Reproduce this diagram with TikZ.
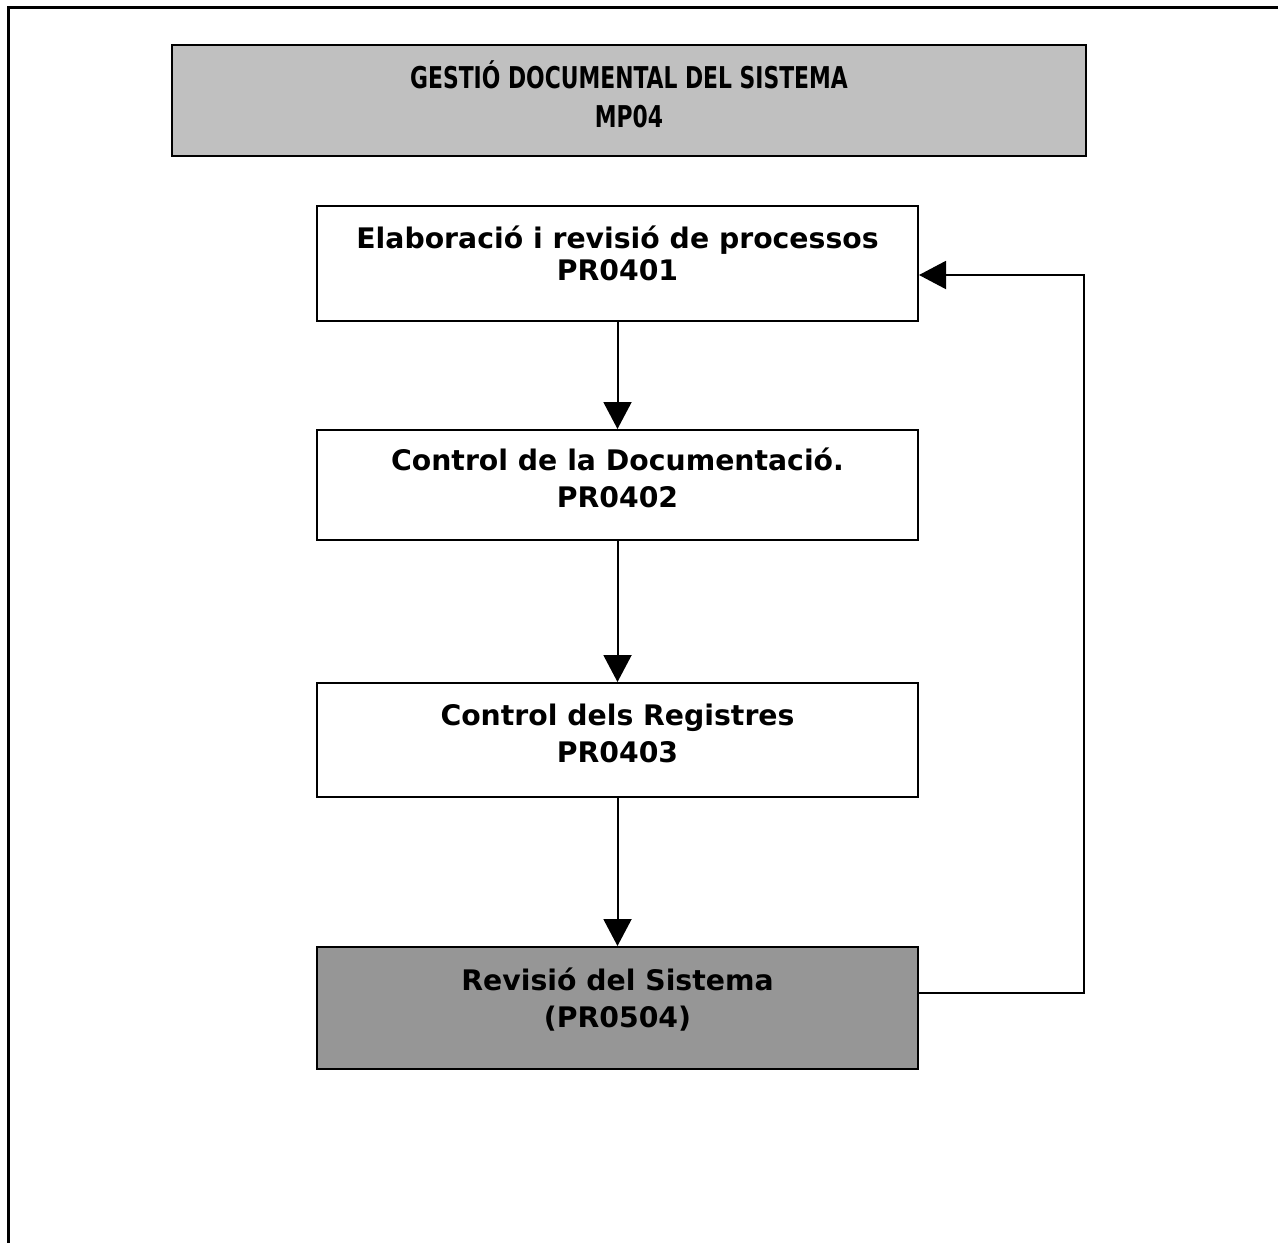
\documentclass[tikz,border=0pt]{standalone}
\usepackage{fontspec}
\setmainfont{DejaVu Sans}
\newfontfamily\titlefont[FakeStretch=0.81]{DejaVu Sans Condensed}
\usepackage{tikz}
\usetikzlibrary{arrows.meta, positioning}
\definecolor{titlegray}{RGB}{192,192,192}
\definecolor{revgray}{RGB}{150,150,150}
% invisible depth, to set the text a little higher in its box
\newcommand{\lift}[1]{\rule[-#1pt]{0pt}{0pt}}

\begin{document}
\begin{tikzpicture}[x=1pt, y=-1pt,
    procbox/.style={draw, line width=2pt, minimum width=601pt, align=center,
        font=\fontsize{28.3}{37}\selectfont\bfseries, inner sep=0pt},
    flow/.style={line width=2pt, -{Triangle[length=27pt, width=28pt]}}]
\useasboundingbox (0,0) rectangle (1278,1243);
% outer frame (open at right and bottom)
\draw[line width=2.5pt] (8.5,1243) -- (8.5,7.5) -- (1278,7.5);

% title
\node[draw, line width=2pt, fill=titlegray, minimum width=914pt, minimum height=111pt,
      align=center, inner sep=0pt, font=\titlefont\fontsize{30}{39}\selectfont\bfseries]
      (title) at (629,100.5) {GESTIÓ DOCUMENTAL DEL SISTEMA\\MP04\lift{13}};

% process boxes
\node[procbox, minimum height=115pt, font=\fontsize{28.3}{32}\selectfont\bfseries]
      (elab) at (617.5,263.5) {Elaboració i revisió de processos\\PR0401\lift{20}};
\node[procbox, minimum height=110pt] (cdoc) at (617.5,485) {Control de la Documentació.\\PR0402\lift{14}};
\node[procbox, minimum height=114pt] (creg) at (617.5,740) {Control dels Registres\\PR0403\lift{13}};
\node[procbox, minimum height=122pt, fill=revgray] (rev) at (617.5,1008) {Revisió del Sistema\\(PR0504)\lift{21}};

\draw[flow] (elab) -- (cdoc);
\draw[flow] (cdoc) -- (creg);
\draw[flow] (creg) -- (rev);

% feedback loop
\coordinate (loopb) at (1084,993);
\coordinate (loopt) at (1084,275);
\draw[flow] (rev.east |- loopb) -- (loopb) -- (loopt) -- (elab.east |- loopt);
\end{tikzpicture}
\end{document}
